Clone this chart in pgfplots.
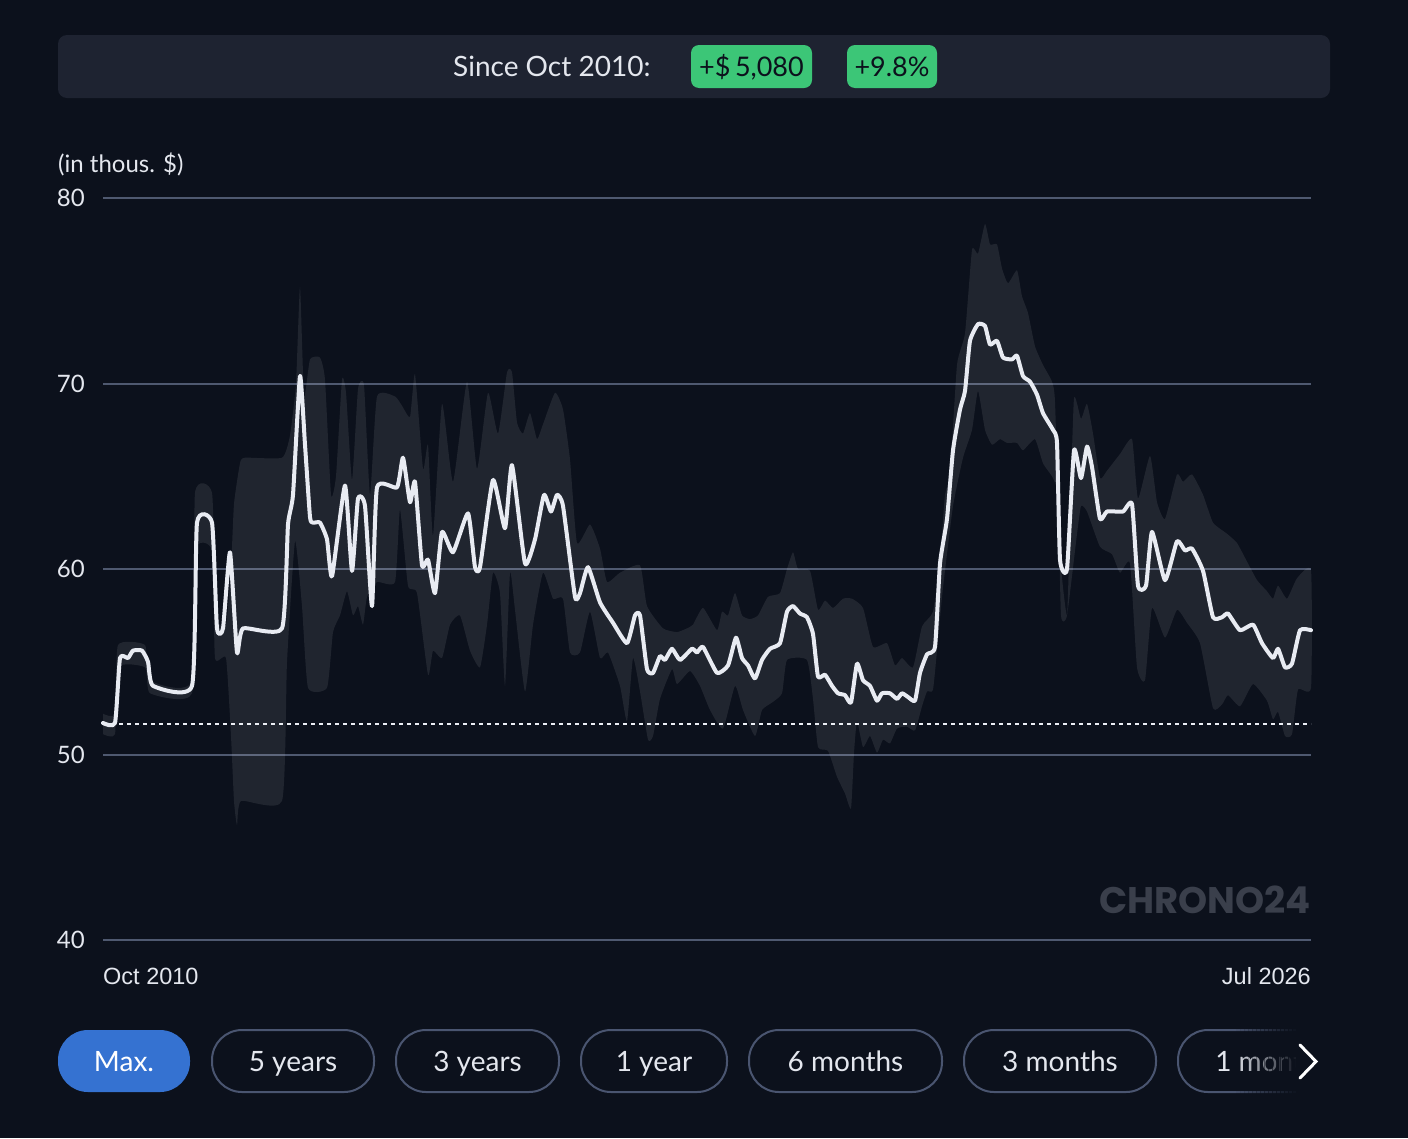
\documentclass[border=0pt]{standalone}
\usepackage{pgfplots}
\pgfplotsset{compat=1.18}
\usepackage{fontspec}
\setmainfont{Lato}
\newfontfamily\arialf{Liberation Sans}
\newfontfamily\popf{Poppins}
\definecolor{bg}{HTML}{0C111C}
\definecolor{panel}{HTML}{1E2331}
\definecolor{gridc}{HTML}{4F5970}
\definecolor{txt}{HTML}{E4E7EE}
\definecolor{badge}{HTML}{3CC677}
\definecolor{btnblue}{HTML}{3572D1}
\definecolor{outl}{HTML}{4A5570}
\definecolor{wm}{HTML}{3A3F4B}
\definecolor{linec}{HTML}{E8EBF2}
\begin{document}
\begin{tikzpicture}[x=1pt,y=1pt]
\fill[bg] (0,0) rectangle (1408,-1138);
% header
\fill[panel, rounded corners=9pt] (58,-35) rectangle (1330,-98);
\node[anchor=base west, text=txt, inner sep=0pt, font=\fontsize{28}{30}\selectfont] at (453,-76) {Since Oct 2010:};
\fill[badge, rounded corners=8pt] (691,-45) rectangle (812,-88);
\node[text=bg, inner sep=0pt, anchor=base, font=\fontsize{27}{30}\selectfont] at (751.5,-76) {+\$\,5,080};
\fill[badge, rounded corners=8pt] (847,-45) rectangle (937,-88);
\node[text=bg, inner sep=0pt, anchor=base, font=\fontsize{27}{30}\selectfont] at (892,-76) {+9.8\%};
% unit label
\node[anchor=base west, text=txt, inner sep=0pt, font=\fontsize{24}{26}\selectfont] at (58,-172) {(in thous. \$)};
\begin{axis}[
  at={(103pt,-940pt)}, anchor=south west, scale only axis,
  width=1208pt, height=742pt,
  xmin=103, xmax=1311, ymin=40, ymax=80,
  axis line style={draw=none},
  major tick length=0pt,
  xtick=\empty,
  ytick={40,50,60,70,80},
  ymajorgrids,
  grid style={gridc, line width=2pt},
  /pgf/number format/assume math mode=true,
  yticklabel style={anchor=east, inner sep=0pt, xshift=-18pt, text=txt, font=\fontsize{24}{24}\selectfont},
  clip=false,
]
% price range band: upper edge left to right, lower edge right to left
\addplot[fill=white, fill opacity=0.085, draw=none, smooth, tension=0.3] coordinates {
(103,52.2) (115,52.2) (118,55.9) (145,55.9) (150,54.0) (192,54.0) (195,64.1) (212,64.1) (216,57.5) (226,57.0) (231,60) (234,63.5) (240,65.7) (245,66.0) (282,66.0) (290,67.2) (296,70) (300,75.2) (304,69.3) (310,71.3) (320,71.4) (325,70.2) (331,64) (336,65) (342,70.2) (346,69.5) (352,64.8) (358,69.7) (364,69.9) (370,64) (377,69.3) (395,69.3) (402,68.8) (410,68.2) (415,70.5) (423,65.4) (428,66.7) (433,61.8) (442,68.9) (453,64.7) (467,70.1) (477,65.4) (488,69.5) (498,67.3) (507,70.6) (512,70.6) (517,67.9) (523,67.3) (530,68.4) (537,67.0) (543,67.8) (555,69.5) (563,68.6) (570,65.9) (577,61.4) (590,62.4) (600,61.1) (607,59.3) (620,59.8) (640,60.2) (647,58.0) (663,56.8) (677,56.6) (687,56.8) (693,57.0) (703,57.9) (717,56.7) (722,57.7) (728,57.5) (735,58.7) (742,57.5) (750,57.3) (758,57.5) (768,58.5) (780,58.7) (787,60.0) (793,60.9) (798,60.0) (810,59.9) (818,57.8) (825,58.3) (833,57.9) (843,58.4) (852,58.4) (863,57.9) (873,55.8) (887,56.0) (895,54.8) (902,55.2) (913,54.7) (922,56.9) (933,57.7) (940,60.5) (945,64.0) (950,65.1) (957,71.0) (965,72.7) (972,77.2) (978,77.0) (985,78.6) (990,77.5) (997,77.5) (1002,76.2) (1008,75.4) (1017,76.1) (1022,74.7) (1028,73.8) (1035,72.0) (1043,71.0) (1052,70.1) (1055,69.0) (1060,60.8) (1067,57.5) (1070,62.7) (1074,69.2) (1081,68.1) (1087,68.9) (1093,67.3) (1100,64.9) (1107,65.3) (1120,66.2) (1132,67.0) (1138,63.8) (1150,66.1) (1157,63.6) (1165,62.7) (1177,65.1) (1183,64.7) (1192,65.1) (1203,64.0) (1213,62.5) (1227,61.9) (1237,61.4) (1247,60.4) (1257,59.4) (1267,58.8) (1273,58.4) (1278,59.1) (1287,58.4) (1297,59.5) (1311,59.9)
(1311,53.6) (1298,53.5) (1292,51.1) (1285,51.0) (1278,52.3) (1273,51.9) (1267,52.9) (1253,53.8) (1240,52.6) (1228,53.2) (1222,52.7) (1213,52.5) (1200,56.0) (1187,57.1) (1177,57.8) (1165,56.3) (1152,57.9) (1145,54.0) (1137,54.7) (1130,60.3) (1120,59.8) (1112,60.8) (1100,61.2) (1087,63.1) (1081,63.4) (1077,61.9) (1067,57.5) (1061,57.5) (1058,63.8) (1053,64.9) (1043,65.7) (1035,67.0) (1023,66.4) (1017,66.8) (1007,66.8) (1000,67.0) (992,66.7) (985,67.5) (978,69.6) (972,67.5) (963,66.0) (953,63.4) (943,59.0) (938,56.2) (933,53.5) (927,53.4) (922,52.6) (915,51.3) (907,51.5) (897,51.4) (890,50.6) (883,50.8) (877,50.1) (870,51.0) (863,50.4) (857,51.8) (854,50.1) (851,47.1) (845,47.9) (837,48.8) (828,50.2) (818,50.4) (813,53.0) (807,55.1) (787,55.1) (782,53.3) (772,52.8) (762,52.4) (755,51.0) (743,52.4) (735,53.7) (723,51.4) (710,52.4) (700,53.7) (690,54.5) (677,53.8) (672,54.6) (660,53.0) (653,51.0) (648,50.8) (640,53.4) (633,55.2) (627,51.8) (620,53.7) (608,55.5) (600,55.2) (590,57.7) (580,55.5) (570,55.5) (563,58.4) (553,58.4) (543,59.8) (533,57.0) (525,53.4) (515,57.8) (510,59.8) (505,53.7) (500,58.7) (493,59.8) (487,57.0) (480,54.7) (470,55.6) (460,57.5) (450,57.0) (442,55.2) (433,55.6) (428,54.3) (417,58.7) (408,59.1) (400,63.2) (395,59.3) (377,59.3) (367,58.5) (363,57.0) (358,58.0) (353,57.5) (347,58.8) (340,57.5) (333,56.6) (327,53.6) (308,53.6) (302,58) (295,61.5) (287,55) (282,47.5) (241,47.5) (237,46.2) (234,47.5) (231,51) (226,55.2) (215,55.2) (212,61.0) (195,61.0) (192,53.3) (150,53.3) (145,54.7) (118,54.7) (115,51.1) (103,51.1)
} -- cycle;
% baseline
\addplot[linec!85, line width=1.6pt, dash pattern=on 4pt off 4pt] coordinates {(103,51.65) (1311,51.65)};
% price line
\addplot[linec, line width=4pt, smooth, tension=0.3, line join=round, line cap=round] coordinates {
(103,51.7) (115,51.7) (120,55.2) (128,55.2) (133,55.6) (142,55.6) (148,55.0) (153,53.7) (192,53.7) (197,62.5) (212,62.5) (217,56.8) (223,56.8) (230,60.9) (237,55.5) (243,56.8) (282,56.8) (288,62.4) (293,64.0) (300,70.4) (305,66.7) (310,62.8) (313,62.5) (320,62.5) (327,61.6) (332,59.6) (345,64.5) (352,59.9) (358,63.8) (365,63.4) (372,58.0) (377,64.4) (397,64.4) (403,66.0) (410,63.6) (415,64.7) (422,60.2) (428,60.5) (435,58.7) (442,62.0) (453,60.9) (468,63.0) (475,60.1) (480,60.1) (493,64.8) (505,62.2) (512,65.6) (525,60.3) (535,61.6) (544,64.0) (551,63.1) (557,64.0) (563,63.4) (575,58.5) (580,58.7) (588,60.1) (600,58.2) (613,57.1) (627,56.0) (635,57.5) (640,57.5) (647,54.6) (653,54.4) (660,55.3) (665,55.1) (672,55.7) (680,55.1) (692,55.7) (697,55.5) (703,55.8) (717,54.4) (728,54.8) (736,56.3) (742,55.2) (748,54.8) (755,54.1) (762,55.1) (770,55.7) (780,56.0) (787,57.7) (793,58.0) (800,57.6) (807,57.4) (813,56.5) (818,54.2) (825,54.3) (832,53.7) (838,53.3) (845,53.2) (851,52.8) (857,54.9) (863,54.0) (870,53.7) (877,52.9) (882,53.3) (890,53.3) (897,53.0) (902,53.3) (908,53.1) (915,52.9) (920,54.4) (927,55.4) (935,55.8) (940,60.3) (947,62.7) (953,66.4) (960,68.6) (965,69.6) (970,72.3) (978,73.2) (985,73.1) (990,72.1) (997,72.3) (1003,71.4) (1012,71.3) (1017,71.5) (1023,70.4) (1030,70.1) (1037,69.4) (1043,68.4) (1053,67.5) (1057,66.8) (1060,60.5) (1067,60.0) (1074,66.4) (1081,64.9) (1087,66.6) (1092,65.5) (1100,62.7) (1107,63.1) (1123,63.1) (1132,63.5) (1138,59.1) (1146,59.1) (1152,62.0) (1165,59.4) (1177,61.5) (1185,61.0) (1192,61.1) (1203,59.9) (1213,57.4) (1222,57.4) (1228,57.6) (1240,56.7) (1253,57.0) (1262,56.0) (1273,55.2) (1278,55.7) (1285,54.7) (1292,54.9) (1300,56.7) (1311,56.7)
};
\end{axis}
% watermark
\node[anchor=base east, text=wm, inner sep=0pt, font=\popf\bfseries\fontsize{37}{40}\selectfont] at (1311,-913) {CHRONO24};
% x labels
\node[anchor=base west, text=txt, inner sep=0pt, font=\arialf\fontsize{23.5}{26}\selectfont] at (103,-984) {Oct 2010};
\node[anchor=base east, text=txt, inner sep=0pt, font=\arialf\fontsize{23.5}{26}\selectfont] at (1311,-984) {Jul 2026};
% buttons
\fill[btnblue, rounded corners=30pt] (58,-1030) rectangle (190,-1092);
\node[text=white, anchor=base, inner sep=0pt, font=\fontsize{28}{30}\selectfont] at (124,-1071) {Max.};
\foreach \a/\b/\t in {212/374/5 years, 396/559/3 years, 581/727/1 year, 749/942/6 months, 964/1156/3 months, 1178/1356/1 month}{
  \draw[outl, line width=2pt, rounded corners=30pt] (\a,-1030) rectangle (\b,-1092);
  \node[text=txt, anchor=base, inner sep=0pt, font=\fontsize{28}{30}\selectfont] at ({(\a+\b)/2},-1071) {\t};
}
\foreach \i [evaluate=\i as \op using (\i+1)/16] in {0,...,15}{
  \fill[bg, opacity=\op] ({1236+\i*4},-1020) rectangle ({1240.5+\i*4},-1102);
}
\fill[bg] (1300,-1020) rectangle (1408,-1102);
\draw[white, line width=3pt, line cap=round, line join=miter] (1300,-1045) -- (1316,-1061.5) -- (1300,-1078);
\end{tikzpicture}
\end{document}
